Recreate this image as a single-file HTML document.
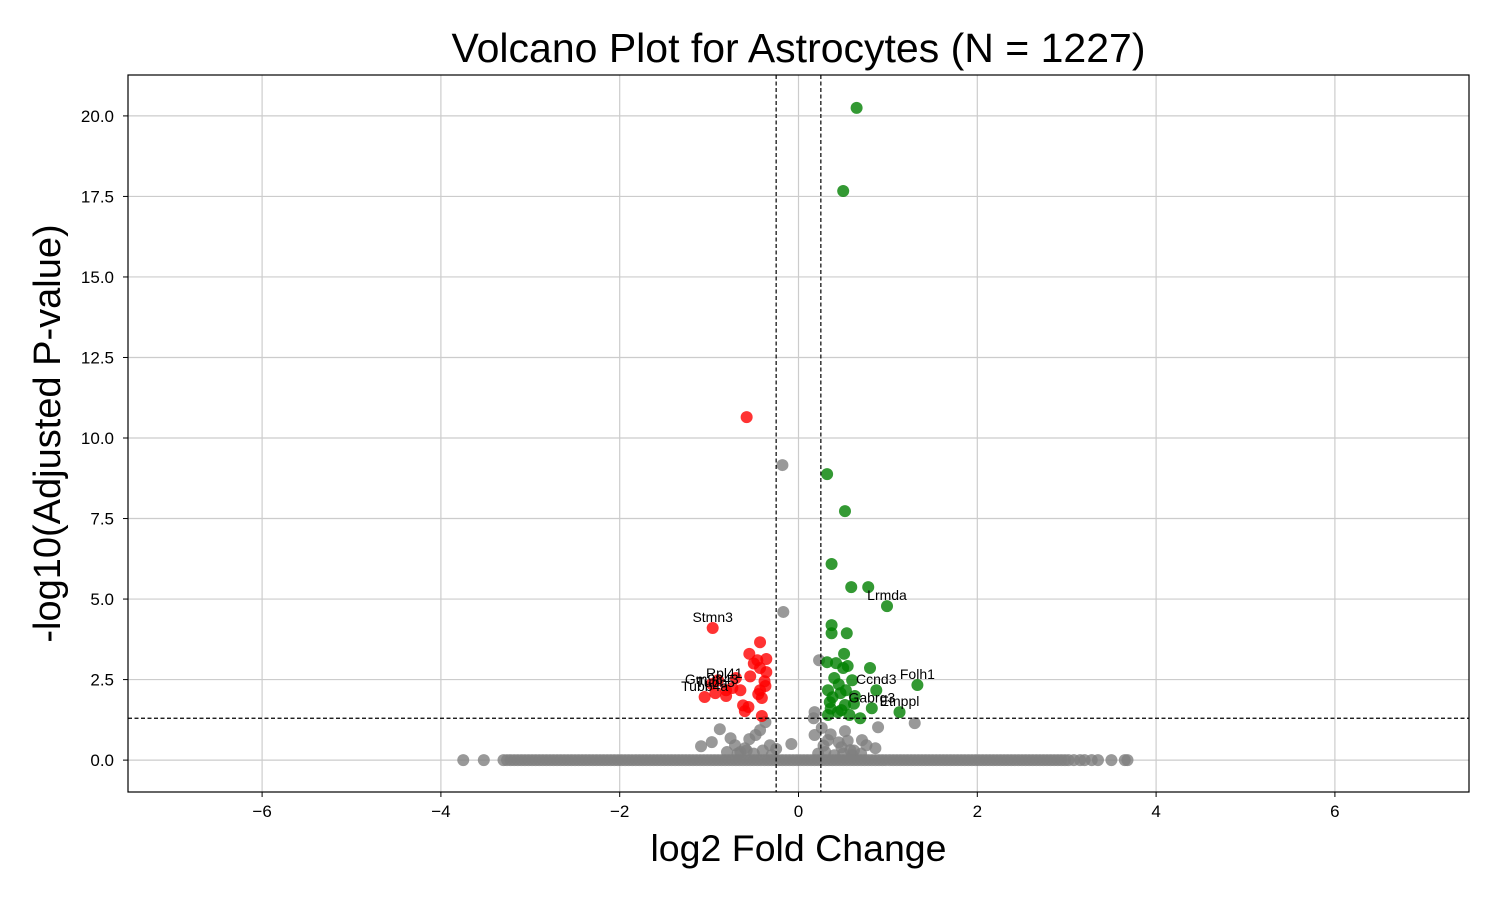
<!DOCTYPE html>
<html><head><meta charset="utf-8">
<style>
html,body{margin:0;padding:0;background:#fff;}
svg{display:block;font-family:"Liberation Sans",Arial,sans-serif;}
</style></head>
<body>
<svg id="chart" width="1500" height="900" viewBox="0 0 1500 900" xmlns="http://www.w3.org/2000/svg"></svg>
<script>
// ---- data ----
const xTicks = [-6,-4,-2,0,2,4,6];
const yTicks = [0.0,2.5,5.0,7.5,10.0,12.5,15.0,17.5,20.0];
const fcThreshold = 0.25;
const pThreshold = 1.3;
const redX = [-0.58,-0.96,-0.43,-0.55,-0.46,-0.36,-0.43,-0.36,-0.54,-0.70,-0.37,-0.65,-0.43,-0.41,-0.81,-0.97,-1.05,-0.93,-0.81,-0.62,-0.56,-0.60,-0.41,-0.90,-0.74,-0.50,-0.38,-0.45];
const redY = [10.65,4.10,3.66,3.30,3.10,3.14,2.86,2.73,2.60,2.55,2.30,2.17,2.17,1.93,2.17,2.36,1.96,2.08,1.99,1.70,1.65,1.52,1.37,2.48,2.24,3.00,2.45,2.05];
const greenX = [0.65,0.50,0.32,0.52,0.37,0.59,0.78,0.99,0.37,0.37,0.54,0.51,0.80,0.32,0.42,0.55,0.50,0.87,1.33,1.13,0.82,0.40,0.33,0.47,0.63,0.35,0.52,0.69,0.33,0.44,0.57,0.53,0.60,0.38,0.45,0.36,0.62,0.48];
const greenY = [20.25,17.67,8.88,7.73,6.09,5.37,5.37,4.78,4.19,3.94,3.94,3.30,2.86,3.04,3.01,2.92,2.86,2.17,2.33,1.49,1.61,2.55,2.17,2.08,1.99,1.80,1.71,1.30,1.40,1.49,1.40,2.17,2.48,1.95,2.35,1.60,1.75,1.55];
const grayX = [-0.18,-0.17,0.23,1.30,0.89,-0.08,-0.88,-0.97,-1.09,-0.76,-0.48,0.18,0.17,0.18,0.33,0.52,0.71,0.86,0.76,0.58,-0.32,-0.60,-0.71,-0.43,-0.37,-0.55,0.45,0.62,0.28,-0.25,-0.65,-0.50,-0.40,-0.30,0.22,0.30,0.40,0.50,0.60,0.70,-0.80,-0.68,-0.58,0.26,0.36,0.48,0.55];
const grayY = [9.16,4.60,3.10,1.15,1.02,0.50,0.96,0.56,0.43,0.68,0.78,1.49,1.30,0.78,0.62,0.90,0.62,0.37,0.46,0.31,0.46,0.37,0.46,0.93,1.18,0.65,0.55,0.30,0.45,0.35,0.25,0.20,0.30,0.15,0.20,0.25,0.15,0.20,0.15,0.20,0.25,0.20,0.30,1.00,0.80,0.40,0.60];
const zeroX = [-3.75,-3.52,-3.30,-3.26,-3.22,-3.18,-3.14,-3.10,-3.06,-3.02,-2.98,-2.94,-2.90,-2.86,-2.82,-2.78,-2.74,-2.70,-2.66,-2.62,-2.58,-2.54,-2.50,-2.46,-2.42,-2.38,-2.34,-2.30,-2.26,-2.22,-2.18,-2.14,-2.10,-2.06,-2.02,-1.98,-1.94,-1.90,-1.86,-1.82,-1.78,-1.74,-1.70,-1.66,-1.62,-1.58,-1.54,-1.50,-1.46,-1.42,-1.38,-1.34,-1.30,-1.26,-1.22,-1.18,-1.14,-1.10,-1.06,-1.02,-0.98,-0.94,-0.90,-0.86,-0.82,-0.78,-0.74,-0.70,-0.66,-0.62,-0.58,-0.54,-0.50,-0.46,-0.42,-0.38,-0.34,-0.30,-0.26,-0.22,-0.18,-0.14,-0.10,-0.06,-0.02,0.02,0.06,0.10,0.14,0.18,0.22,0.26,0.30,0.34,0.38,0.42,0.46,0.50,0.54,0.58,0.62,0.66,0.70,0.74,0.78,0.82,0.86,0.90,0.94,0.98,1.02,1.06,1.10,1.14,1.18,1.22,1.26,1.30,1.34,1.38,1.42,1.46,1.50,1.54,1.58,1.62,1.66,1.70,1.74,1.78,1.82,1.86,1.90,1.94,1.98,2.02,2.06,2.10,2.14,2.18,2.22,2.26,2.30,2.34,2.38,2.42,2.46,2.50,2.54,2.58,2.62,2.66,2.70,2.74,2.78,2.82,2.86,2.90,2.94,2.98,3.02,3.08,3.15,3.20,3.28,3.35,3.50,3.65,3.68];
const labelNames = ["Stmn3","Rpl41","Gm9843","Tubb4a","Tubb5","Lrmda","Folh1","Ccnd3","Gabrg3","Etnppl"];
const labelX = [-0.96,-0.83,-0.97,-1.05,-0.93,0.99,1.33,0.87,0.82,1.13];
const labelY = [4.10,2.36,2.17,1.96,2.08,4.78,2.33,2.17,1.61,1.49];

// ---- layout ----
const L=128,R=1469,T=75,B=792;
const xMin=-7.5,xMax=7.5,yMin=-0.99,yMax=21.27;
const sx=v=>L+(v-xMin)/(xMax-xMin)*(R-L);
const sy=v=>B-(v-yMin)/(yMax-yMin)*(B-T);
const svg=document.getElementById('chart');
const NS='http://www.w3.org/2000/svg';
function mk(tag,attrs,parent){const e=document.createElementNS(NS,tag);for(const k in attrs)e.setAttribute(k,attrs[k]);(parent||svg).appendChild(e);return e;}

// grid
const grid=mk('g',{});


xTicks.forEach(t=>{mk('line',{x1:sx(t),x2:sx(t),y1:T,y2:B,stroke:'#cccccc','stroke-width':1.2},grid);});
yTicks.forEach(t=>{mk('line',{x1:L,x2:R,y1:sy(t),y2:sy(t),stroke:'#cccccc','stroke-width':1.2},grid);});

// points
const pts=mk('g',{});


zeroX.forEach(x=>{const c=mk('circle',{cx:sx(x),cy:sy(0),r:6,fill:'#808080','fill-opacity':0.8},pts);

});
grayX.forEach((x,i)=>{const c=mk('circle',{cx:sx(x),cy:sy(grayY[i]),r:6,fill:'#808080','fill-opacity':0.8},pts);

});
redX.forEach((x,i)=>{const c=mk('circle',{cx:sx(x),cy:sy(redY[i]),r:6,fill:'#ff0000','fill-opacity':0.8},pts);

});
greenX.forEach((x,i)=>{const c=mk('circle',{cx:sx(x),cy:sy(greenY[i]),r:6,fill:'#008000','fill-opacity':0.8},pts);

});

// threshold lines
const th=mk('g',{});


[-fcThreshold,fcThreshold].forEach(v=>mk('line',{x1:sx(v),x2:sx(v),y1:T,y2:B,stroke:'#000','stroke-width':1.2,'stroke-dasharray':'4,2.5'},th));
mk('line',{x1:L,x2:R,y1:sy(pThreshold),y2:sy(pThreshold),stroke:'#000','stroke-width':1.2,'stroke-dasharray':'4,2.5'},th);

// gene labels
labelNames.forEach((n,i)=>{const t=mk('text',{x:sx(labelX[i]),y:sy(labelY[i])-6,'font-size':14,'text-anchor':'middle',fill:'#000'});t.textContent=n;

});

// frame
const fr=mk('rect',{x:L,y:T,width:R-L,height:B-T,fill:'none',stroke:'#000','stroke-width':1.2});



// ticks
const xt=mk('g',{});


xTicks.forEach(t=>{mk('line',{x1:sx(t),x2:sx(t),y1:B,y2:B+5,stroke:'#000'},xt);
const tx=mk('text',{x:sx(t),y:B+25,'font-size':17,'text-anchor':'middle'},xt);tx.textContent=(t<0?'\u2212':'')+Math.abs(t);});
const yt=mk('g',{});


yTicks.forEach(t=>{mk('line',{x1:L-5,x2:L,y1:sy(t),y2:sy(t),stroke:'#000'},yt);
const tx=mk('text',{x:L-14,y:sy(t)+6,'font-size':17,'text-anchor':'end'},yt);tx.textContent=t.toFixed(1);});

// titles
const ti=mk('text',{x:(L+R)/2,y:62,'font-size':41,'text-anchor':'middle'});ti.textContent='Volcano Plot for Astrocytes (N = 1227)';


const xl=mk('text',{x:(L+R)/2,y:861,'font-size':37.5,'text-anchor':'middle'});xl.textContent='log2 Fold Change';


const yl=mk('text',{x:0,y:0,'font-size':38,'text-anchor':'middle',transform:`translate(60,${(T+B)/2}) rotate(-90)`});yl.textContent='-log10(Adjusted P-value)';


</script>
</body></html>
